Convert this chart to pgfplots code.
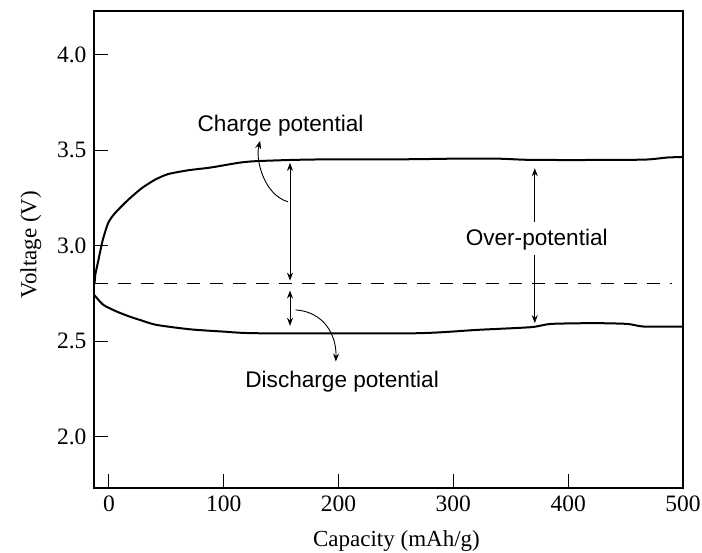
\documentclass[border=0pt]{standalone}
\usepackage{fontspec}
\setmainfont{Liberation Serif}
\newfontfamily\annfont{Liberation Sans}
\usepackage{pgfplots}
\pgfplotsset{compat=1.18}
\usetikzlibrary{arrows.meta}

\begin{document}
\begin{tikzpicture}
\begin{axis}[
  scale only axis,
  width=589pt, height=477pt,
  xmin=-13, xmax=500,
  ymin=1.73, ymax=4.23,
  xtick={0,100,200,300,400,500},
  ytick={2.0,2.5,3.0,3.5,4.0},
  yticklabel style={xshift=-4pt, /pgf/number format/.cd, fixed, fixed zerofill, precision=1},
  /pgf/number format/assume math mode=true,
  tick align=inside,
  xtick pos=bottom, ytick pos=left,
  major tick length=14pt,
  tick style={line width=1pt, black},
  axis line style={line width=1.4pt},
  ticklabel style={font=\fontsize{23.5}{26}\selectfont},
  xticklabel style={yshift=-4pt},
  xlabel={Capacity (mAh/g)},
  ylabel={Voltage (V)},
  label style={font=\fontsize{23}{26}\selectfont},
  xlabel style={at={(axis description cs:0.5135,-0.1216)}, anchor=base},
  ylabel style={at={(axis description cs:-0.098,0.51)}, anchor=base},
]

% charge curve
\addplot[black, line width=2pt, smooth, tension=0.4] coordinates {
  (-12.5,2.80) (-11.8,2.85) (-9.3,2.92) (-6.9,2.99) (-4.9,3.04) (-0.6,3.12)
  (5.2,3.17) (16.7,3.24) (28.3,3.30) (39.9,3.345) (51.4,3.375) (68.7,3.395)
  (89,3.41) (113.5,3.435) (128,3.443) (157,3.449) (185,3.452) (261,3.453)
  (300,3.456) (339,3.456) (365,3.450) (408,3.449) (466,3.451) (486,3.462) (500,3.465)
};

% discharge curve
\addplot[black, line width=2pt, smooth, tension=0.4] coordinates {
  (-12.5,2.74) (-4.9,2.69) (6.7,2.655) (18.2,2.628) (26.9,2.611) (41.3,2.585)
  (70.2,2.562) (99,2.55) (131,2.541) (267,2.541) (321.5,2.559) (367.7,2.573)
  (385,2.59) (422.6,2.594) (451.5,2.59) (466,2.576) (500,2.576)
};

% equilibrium potential
\addplot[black, line width=1.3pt, dash pattern=on 13pt off 10pt] coordinates {
  (-12.5,2.8) (490,2.8)
};

% annotations
\draw[line width=0.9pt, {Stealth[length=8pt,width=6pt]}-{Stealth[length=8pt,width=6pt]}]
  (axis cs:157.7,3.434) -- (axis cs:157.7,2.817);
\draw[line width=0.9pt, {Stealth[length=8pt,width=6pt]}-{Stealth[length=8pt,width=6pt]}]
  (axis cs:157.7,2.765) -- (axis cs:157.7,2.580);
\draw[line width=0.9pt, -{Stealth[length=8pt,width=6pt]}]
  (axis cs:156,3.23) .. controls (axis cs:135.2,3.266) and (axis cs:127.4,3.45) .. (axis cs:131.7,3.55);
\draw[line width=0.9pt, -{Stealth[length=8pt,width=6pt]}]
  (axis cs:162.6,2.6635) .. controls (axis cs:187.2,2.653) and (axis cs:198.4,2.532) .. (axis cs:197.6,2.393);
\draw[line width=0.9pt, -{Stealth[length=8pt,width=6pt]}]
  (axis cs:370.9,3.126) -- (axis cs:370.9,3.406);
\draw[line width=0.9pt, -{Stealth[length=8pt,width=6pt]}]
  (axis cs:370.9,2.952) -- (axis cs:370.9,2.594);

\node[anchor=base, inner sep=0pt, font=\annfont\fontsize{22.6}{26}\selectfont]
  at (axis cs:149.5,3.598) {Charge potential};
\node[anchor=base, inner sep=0pt, font=\annfont\fontsize{22.6}{26}\selectfont]
  at (axis cs:203.1,2.255) {Discharge potential};
\node[anchor=base, inner sep=0pt, font=\annfont\fontsize{22.6}{26}\selectfont]
  at (axis cs:372.6,3.0) {Over-potential};
\end{axis}
\pgfresetboundingbox
\path ([shift={(-94pt,-64pt)}]current axis.south west) rectangle ([shift={(19pt,11pt)}]current axis.north east);
\end{tikzpicture}
\end{document}
